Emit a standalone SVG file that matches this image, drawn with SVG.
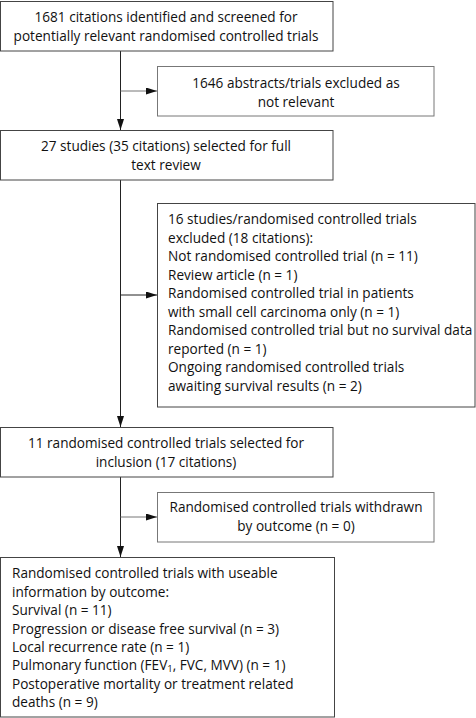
<svg xmlns="http://www.w3.org/2000/svg" width="476" height="718" viewBox="0 0 476 718">
<defs>
<style>
.box{fill:#fff;stroke:#444;stroke-width:1}
.box2{fill:#fff;stroke:#777;stroke-width:1}
text{font-family:"Open Sans","Liberation Sans",sans-serif;font-size:13.6px;fill:#111}
.c{text-anchor:middle}
.ln{stroke:#222;stroke-width:1;fill:none}
.lb{stroke:#777;stroke-width:1;fill:none}
</style>
<marker id="ah" markerWidth="11" markerHeight="7" refX="11" refY="3.5" orient="auto" markerUnits="userSpaceOnUse">
<path d="M0,0 L11,3.5 L0,7 Z" fill="#111"/>
</marker>
</defs>
<rect width="476" height="718" fill="#fff"/>
<g id="connectors">
<line class="ln" x1="120.5" y1="51" x2="120.5" y2="130" marker-end="url(#ah)"/>
<line class="lb" x1="120.5" y1="91" x2="157" y2="91" marker-end="url(#ah)"/>
<line class="ln" x1="120.5" y1="180" x2="120.5" y2="427" marker-end="url(#ah)"/>
<line class="ln" x1="120.5" y1="295" x2="157" y2="295" marker-end="url(#ah)"/>
<line class="ln" x1="120.5" y1="477" x2="120.5" y2="557" marker-end="url(#ah)"/>
<line class="lb" x1="120.5" y1="517" x2="157" y2="517" marker-end="url(#ah)"/>
</g>
<g id="n1">
<rect class="box" x="0.5" y="1.5" width="332.5" height="49.5"/>
<text class="c" x="166" y="22">1681 citations identified and screened for</text>
<text class="c" x="166" y="41">potentially relevant randomised controlled trials</text>
</g>
<g id="n2">
<rect class="box2" x="157.5" y="66.5" width="276.5" height="49.5"/>
<text class="c" x="296" y="88">1646 abstracts/trials excluded as</text>
<text class="c" x="296" y="106.5">not relevant</text>
</g>
<g id="n3">
<rect class="box" x="0.5" y="130.5" width="332.5" height="49.5"/>
<text class="c" x="166" y="151">27 studies (35 citations) selected for full</text>
<text class="c" x="166" y="169.5">text review</text>
</g>
<g id="n4">
<rect class="box" x="157.5" y="203.5" width="317.5" height="203.5"/>
<text x="168" y="224">16 studies/randomised controlled trials</text>
<text x="168" y="242.5">excluded (18 citations):</text>
<text x="168" y="261">Not randomised controlled trial (n = 11)</text>
<text x="168" y="279.5">Review article (n = 1)</text>
<text x="168" y="298">Randomised controlled trial in patients</text>
<text x="168" y="316.5">with small cell carcinoma only (n = 1)</text>
<text x="168" y="335">Randomised controlled trial but no survival data</text>
<text x="168" y="353.5">reported (n = 1)</text>
<text x="168" y="372">Ongoing randomised controlled trials</text>
<text x="168" y="390.5">awaiting survival results (n = 2)</text>
</g>
<g id="n5">
<rect class="box" x="0.5" y="427.5" width="332.5" height="49.5"/>
<text class="c" x="166" y="448">11 randomised controlled trials selected for</text>
<text class="c" x="166" y="466.5">inclusion (17 citations)</text>
</g>
<g id="n6">
<rect class="box2" x="157.5" y="492.5" width="276.5" height="49.5"/>
<text class="c" x="296" y="512">Randomised controlled trials withdrawn</text>
<text class="c" x="296" y="530.5">by outcome (n = 0)</text>
</g>
<g id="n7">
<rect class="box" x="0.5" y="557.5" width="334" height="159.5"/>
<text x="12" y="578">Randomised controlled trials with useable</text>
<text x="12" y="596.5">information by outcome:</text>
<text x="12" y="615">Survival (n = 11)</text>
<text x="12" y="633.5">Progression or disease free survival (n = 3)</text>
<text x="12" y="652">Local recurrence rate (n = 1)</text>
<text x="12" y="670">Pulmonary function (FEV<tspan font-size="9.5" dy="2">1</tspan><tspan dy="-2">, FVC, MVV) (n = 1)</tspan></text>
<text x="12" y="689">Postoperative mortality or treatment related</text>
<text x="12" y="707">deaths (n = 9)</text>
</g>
</svg>
